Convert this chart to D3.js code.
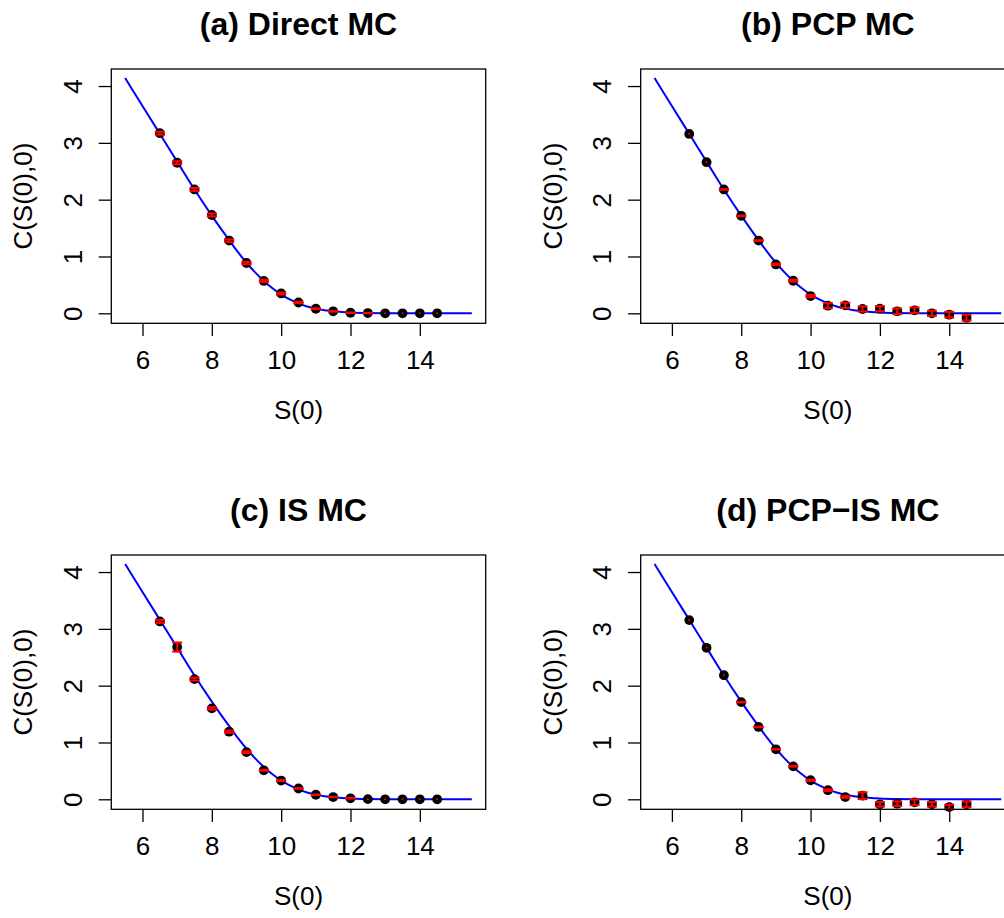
<!DOCTYPE html>
<html>
<head>
<meta charset="utf-8">
<script src="https://cdn.jsdelivr.net/npm/d3@7"></script>
<style>
  html, body { margin: 0; padding: 0; background: #fff; overflow: hidden; }
  svg { display: block; }
</style>
</head>
<body>
<svg id="chart" width="1004" height="918"></svg>
<script>
// ---- data ----
const curveS = [5.5, 6, 6.5, 7, 7.5, 8, 8.25, 8.5, 8.75, 9, 9.25, 9.5, 9.75, 10, 10.25, 10.5, 10.75, 11, 11.25, 11.5, 11.75, 12, 12.5, 13, 13.5, 14, 14.5, 15, 15.5];
const curveC = [4.14, 3.65, 3.16, 2.67, 2.18, 1.72, 1.50, 1.29, 1.08, 0.89, 0.72, 0.57, 0.44, 0.33, 0.245, 0.175, 0.12, 0.082, 0.055, 0.036, 0.023, 0.014, 0.005, 0.002, 0.001, 0, 0, 0, 0];

const s0 = [6.5, 7, 7.5, 8, 8.5, 9, 9.5, 10, 10.5, 11, 11.5, 12, 12.5, 13, 13.5, 14, 14.5];

const estA = [3.17, 2.65, 2.18, 1.73, 1.28, 0.885, 0.57, 0.35, 0.19, 0.08, 0.035, 0.01, 0.004, 0, 0, 0, 0];
const errA = [0.025, 0.025, 0.025, 0.025, 0.022, 0.02, 0.018, 0.015, 0.012, 0.008, 0.005, 0.003, 0.002, 0, 0, 0, 0];

const estB = [3.157, 2.66, 2.18, 1.716, 1.28, 0.86, 0.573, 0.304, 0.134, 0.14, 0.076, 0.081, 0.035, 0.053, 0.0, -0.024, -0.077];
const errB = [0, 0, 0.004, 0.004, 0.006, 0.012, 0.015, 0.02, 0.045, 0.045, 0.045, 0.045, 0.05, 0.05, 0.045, 0.05, 0.05];

const estC = [3.13, 2.68, 2.115, 1.60, 1.19, 0.83, 0.51, 0.33, 0.19, 0.08, 0.04, 0.018, 0.003, 0, 0, 0, 0];
const errC = [0.025, 0.08, 0.025, 0.02, 0.02, 0.015, 0.008, 0.008, 0.005, 0.004, 0.003, 0.002, 0, 0, 0, 0, 0];

const estD = [3.154, 2.666, 2.185, 1.71, 1.274, 0.88, 0.58, 0.335, 0.16, 0.04, 0.064, -0.088, -0.077, -0.053, -0.088, -0.136, -0.088];
const errD = [0, 0, 0, 0.004, 0.004, 0.004, 0.005, 0.01, 0.015, 0.015, 0.06, 0.04, 0.04, 0.05, 0.04, 0.04, 0.05];

const panelTitles = ["(a) Direct MC", "(b) PCP MC", "(c) IS MC", "(d) PCP\u2212IS MC"];
const xLabel = "S(0)";
const yLabel = "C(S(0),0)";
const xTicks = [6, 8, 10, 12, 14];
const yTicks = [0, 1, 2, 3, 4];

const estimates = [estA, estB, estC, estD];
const errors = [errA, errB, errC, errD];

// ---- layout ----
const box = { left: 111.3, right: 485.7, top: 69, bottom: 323.3 };
const colDx = 529.4, rowDy = 486;
const fontFam = "'Liberation Sans', Arial, Helvetica, sans-serif";
const axisFont = 26, titleFont = 32;

const svg = d3.select("#chart");

const x = d3.scaleLinear().domain([5.1, 15.9]).range([box.left, box.right]);
const y = d3.scaleLinear().domain([-0.176, 4.30]).range([box.bottom, box.top]);

const line = d3.line().x((d, i) => x(curveS[i])).y(d => y(d)).curve(d3.curveMonotoneX);

panelTitles.forEach((title, p) => {
  const col = p % 2, row = Math.floor(p / 2);
  const g = svg.append("g").attr("transform", `translate(${col * colDx},${row * rowDy})`);
  const est = estimates[p], err = errors[p];

  // curve
  g.append("path").datum(curveC).attr("d", line)
    .attr("fill", "none").attr("stroke", "#0000ff").attr("stroke-width", 2);

  // points
  g.selectAll("circle.pt").data(est).join("circle")
    .attr("class", "pt")
    .attr("cx", (d, i) => x(s0[i])).attr("cy", d => y(d)).attr("r", 4.9)
    .attr("fill", "#000");

  // error bars
  const eb = g.append("g").attr("stroke", "#ff0000").attr("stroke-width", 2).attr("stroke-linecap", "round");
  est.forEach((v, i) => {
    const cx = x(s0[i]);
    const e = err[i];
    eb.append("line").attr("x1", cx).attr("x2", cx).attr("y1", y(v - e)).attr("y2", y(v + e) - (e === 0 ? 0.01 : 0));
    if (e > 0) {
      [v - e, v + e].forEach(t => {
        eb.append("line").attr("x1", cx - 5).attr("x2", cx + 5).attr("y1", y(t)).attr("y2", y(t))
          .attr("stroke-linecap", "butt");
      });
    }
  });

  // box
  g.append("rect").attr("x", box.left).attr("y", box.top)
    .attr("width", box.right - box.left).attr("height", box.bottom - box.top)
    .attr("fill", "none").attr("stroke", "#000").attr("stroke-width", 1.3);

  // x axis
  const xa = g.append("g").attr("transform", `translate(0,${box.bottom})`)
    .call(d3.axisBottom(x).tickValues(xTicks).tickFormat(d3.format("d")).tickSize(12.7));
  xa.select(".domain").remove();
  xa.attr("font-family", fontFam).attr("font-size", axisFont);
  xa.selectAll(".tick line").attr("stroke-width", 1.3);
  xa.selectAll(".tick text").attr("y", 45.7).attr("dy", 0).attr("fill", "#000");

  // y axis
  const ya = g.append("g").attr("transform", `translate(${box.left},0)`)
    .call(d3.axisLeft(y).tickValues(yTicks).tickFormat(d3.format("d")).tickSize(12.6));
  ya.select(".domain").remove();
  ya.attr("font-family", fontFam).attr("font-size", axisFont);
  ya.selectAll(".tick line").attr("stroke-width", 1.3);
  ya.selectAll(".tick text").attr("x", 0).attr("dy", 0).attr("fill", "#000")
    .attr("text-anchor", "middle")
    .attr("transform", "translate(-29.3,0) rotate(-90)");

  // axis titles
  g.append("text").attr("x", (box.left + box.right) / 2).attr("y", box.bottom + 96)
    .attr("text-anchor", "middle").attr("font-family", fontFam).attr("font-size", axisFont)
    .text(xLabel);
  g.append("text")
    .attr("transform", `translate(${box.left - 79},${(box.top + box.bottom) / 2}) rotate(-90)`)
    .attr("text-anchor", "middle").attr("font-family", fontFam).attr("font-size", axisFont)
    .text(yLabel);

  // title
  g.append("text").attr("x", (box.left + box.right) / 2).attr("y", box.top - 34)
    .attr("text-anchor", "middle").attr("font-family", fontFam).attr("font-size", titleFont)
    .attr("font-weight", "bold").text(title);
});
</script>
</body>
</html>
